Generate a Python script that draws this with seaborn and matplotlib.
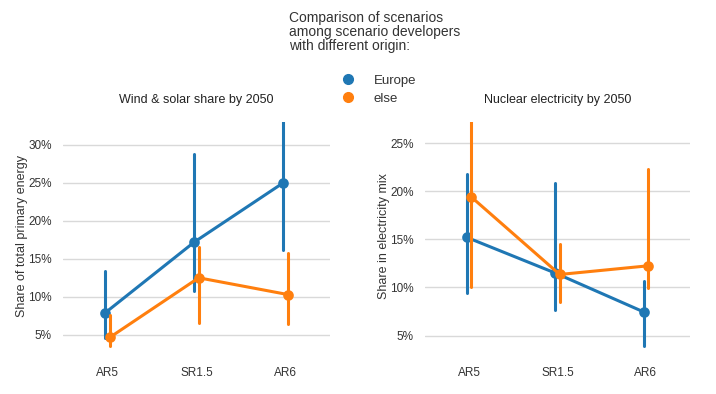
import matplotlib
matplotlib.use("Agg")
import matplotlib.pyplot as plt
import seaborn as sns
import pandas as pd
from matplotlib.ticker import PercentFormatter, FixedLocator
from matplotlib.lines import Line2D

categories = ["AR5", "SR1.5", "AR6"]
origins = ["Europe", "else"]

# Wind & solar share by 2050 (fraction): point, lower, upper
ws_europe_mid = [0.079, 0.172, 0.250]
ws_europe_lo = [0.046, 0.108, 0.162]
ws_europe_hi = [0.134, 0.288, 0.350]
ws_else_mid = [0.0465, 0.125, 0.103]
ws_else_lo = [0.035, 0.066, 0.0645]
ws_else_hi = [0.076, 0.166, 0.157]

# Nuclear electricity share by 2050 (fraction)
nu_europe_mid = [0.152, 0.115, 0.0746]
nu_europe_lo = [0.094, 0.077, 0.039]
nu_europe_hi = [0.218, 0.209, 0.1065]
nu_else_mid = [0.194, 0.1135, 0.1225]
nu_else_lo = [0.100, 0.085, 0.099]
nu_else_hi = [0.290, 0.145, 0.223]

yticks_ws = [0.05, 0.10, 0.15, 0.20, 0.25, 0.30]
yticks_nu = [0.05, 0.10, 0.15, 0.20, 0.25]


def build(eu_mid, eu_lo, eu_hi, el_mid, el_lo, el_hi):
    rows = []
    for org, mid, lo, hi in [("Europe", eu_mid, eu_lo, eu_hi), ("else", el_mid, el_lo, el_hi)]:
        for c, m, l, h in zip(categories, mid, lo, hi):
            for v in (l, m, h):
                rows.append({"cat": c, "origin": org, "value": v})
    return pd.DataFrame(rows)


df_ws = build(ws_europe_mid, ws_europe_lo, ws_europe_hi, ws_else_mid, ws_else_lo, ws_else_hi)
df_nu = build(nu_europe_mid, nu_europe_lo, nu_europe_hi, nu_else_mid, nu_else_lo, nu_else_hi)

sns.set_style("whitegrid")
plt.rcParams["font.family"] = ["Liberation Sans", "DejaVu Sans"]

palette = {"Europe": "#1f77b4", "else": "#ff7f0e"}

fig = plt.figure(figsize=(7.16, 3.94), dpi=100)
W, H = 716, 394
ax1 = fig.add_axes([63 / W, 1 - 350 / H, 267 / W, 228 / H])
ax2 = fig.add_axes([425 / W, 1 - 350 / H, 265 / W, 228 / H])

for ax, df, ylim, yt, title, ylabel in [
    (ax1, df_ws, (0.03, 0.330), yticks_ws, "Wind & solar share by 2050", "Share of total primary energy"),
    (ax2, df_nu, (0.035, 0.272), yticks_nu, "Nuclear electricity by 2050", "Share in electricity mix"),
]:
    sns.pointplot(data=df, x="cat", y="value", hue="origin", order=categories,
                  hue_order=origins, palette=palette, estimator="median",
                  errorbar=("pi", 100), dodge=0.05, ax=ax, legend=False,
                  markersize=6, linewidth=2.2, err_kws={"linewidth": 2.2})
    ax.set_ylim(*ylim)
    ax.yaxis.set_major_locator(FixedLocator(yt))
    ax.yaxis.set_major_formatter(PercentFormatter(1.0, decimals=0))
    ax.set_xlim(-0.5, 2.5)
    ax.grid(axis="x", visible=False)
    ax.grid(axis="y", color="#d9d9d9", linewidth=1)
    for s in ax.spines.values():
        s.set_visible(False)
    ax.tick_params(axis="both", length=0, labelsize=8.5, labelcolor="#333333", pad=8)
    ax.tick_params(axis="x", pad=12)
    ax.set_xlabel("")
    ax.set_ylabel(ylabel, fontsize=9, color="#333333", labelpad=0)
    ax.set_title(title, fontsize=9, color="#222222", pad=14)

fig.text(289 / W, 1 - 11 / H, "Comparison of scenarios\namong scenario developers\nwith different origin:",
         ha="left", va="top", fontsize=10, color="#333333", linespacing=1.02)

handles = [Line2D([], [], marker="o", linestyle="none", color=palette[o], markersize=7) for o in origins]
fig.legend(handles, origins, loc="upper left", bbox_to_anchor=(330 / W, 1 - 69 / H),
           frameon=False, fontsize=9.5, handletextpad=0.9, labelspacing=0.45,
           labelcolor="#333333", borderaxespad=0)

fig.savefig("out.png", dpi=100)
